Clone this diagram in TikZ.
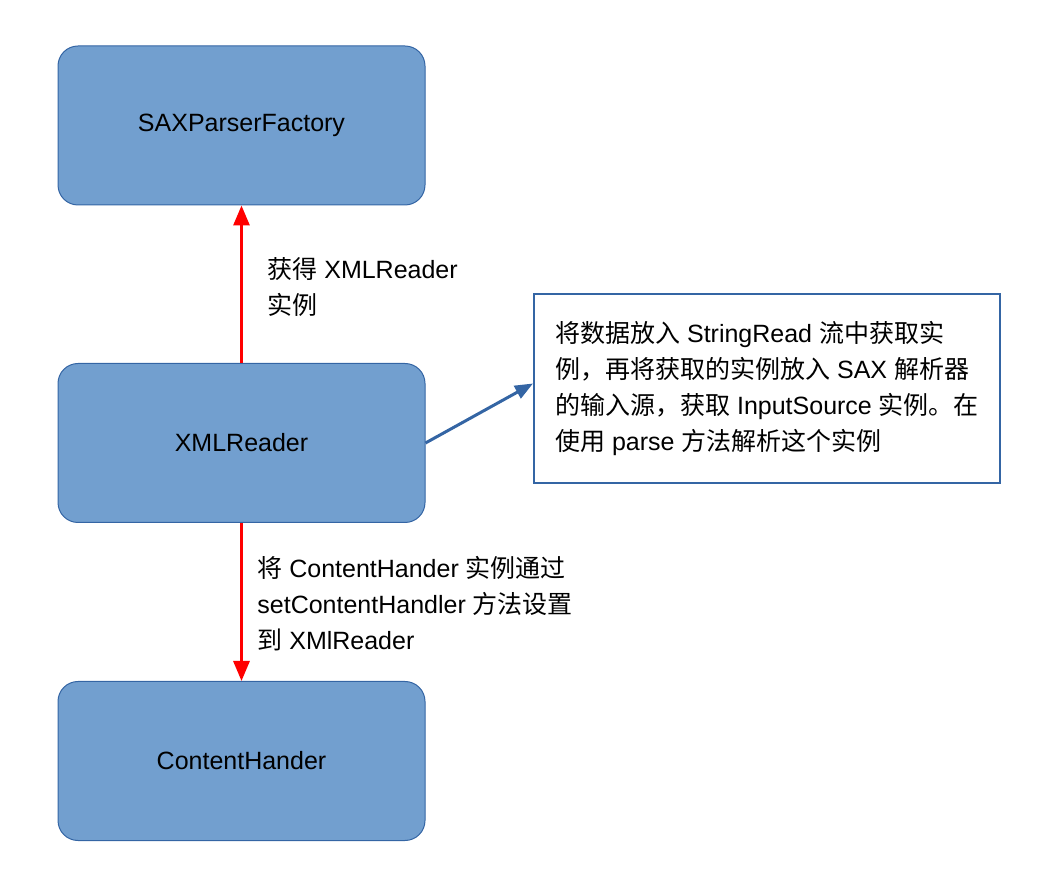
\documentclass[tikz,border=0pt]{standalone}
\usepackage{fontspec}
\setmainfont{Liberation Sans}
\newfontfamily\cjk{Noto Sans CJK SC}
\usetikzlibrary{arrows.meta}
\definecolor{boxfill}{HTML}{729FCF}
\definecolor{boxline}{HTML}{3465A4}

\begin{document}
\begin{tikzpicture}[x=0.5pt,y=-0.5pt,font=\fontsize{12.5}{18}\selectfont]
   \tikzset{box/.style={draw=boxline,fill=boxfill,line width=0.5pt,rounded corners=10pt,minimum width=183.5pt,minimum height=79.5pt},
            note/.style={draw=boxline,fill=white,line width=1pt,minimum width=233pt,minimum height=94.5pt,align=left},
            lbl/.style={inner sep=0pt,align=left,anchor=west},
            redarrow/.style={draw=red,line width=1.5pt,-{Triangle[length=10pt,width=8pt]}},
            bluearrow/.style={draw=boxline,line width=1.5pt,-{Triangle[length=9pt,width=7pt]}}};

\useasboundingbox (0,0) rectangle (1050,881);

\node[box] (sax) at (241.5,125.5) {SAXParserFactory};
\node[box] (xml) at (241.5,443) {XMLReader};
\node[box] (handler) at (241.5,761) {ContentHander};
\node[note] (src) at (767,388.5) {{\cjk 将数据放入} StringRead {\cjk 流中获取实}\\
  {\cjk 例，再将获取的实例放入} SAX {\cjk 解析器}\\
  {\cjk 的输入源，获取} InputSource {\cjk 实例。在}\\
  {\cjk 使用} parse {\cjk 方法解析这个实例}};

\draw[redarrow] (xml) -- (sax);
\draw[redarrow] (xml) -- (handler);
\draw[bluearrow] (xml.east) -- ([yshift=2.5pt]src.west);

\node[lbl] (get) at (267,287) {{\cjk 获得} XMLReader\\{\cjk 实例}};
\node[lbl] (set) at (257,603.5) {{\cjk 将} ContentHander {\cjk 实例通过}\\
  setContentHandler {\cjk 方法设置}\\
  {\cjk 到} XMlReader};

\end{tikzpicture}
\end{document}
